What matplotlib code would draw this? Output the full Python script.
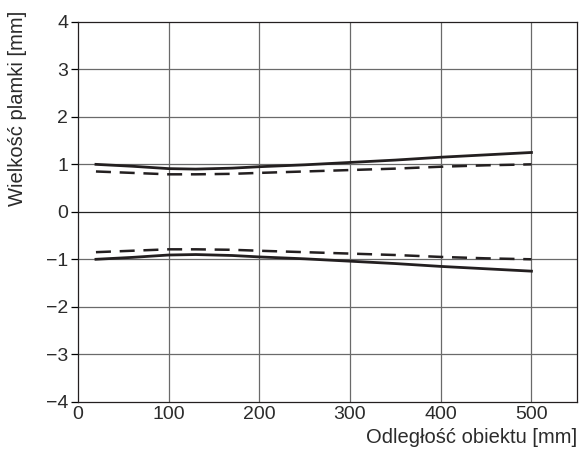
import numpy as np
import matplotlib.pyplot as plt

plt.rcParams['font.family'] = ['Liberation Sans', 'DejaVu Sans']

# odległość obiektu [mm]
x_solid = [20, 60, 100, 130, 170, 200, 250, 300, 350, 400, 450, 500]
solid_up = [1.0, 0.96, 0.91, 0.90, 0.92, 0.95, 0.99, 1.04, 1.09, 1.15, 1.20, 1.25]
x_dash = [20, 60, 100, 130, 170, 200, 250, 300, 350, 400, 450, 500]
dash_up = [0.85, 0.82, 0.79, 0.79, 0.80, 0.82, 0.85, 0.88, 0.91, 0.95, 0.98, 1.0]

solid_dn = [-v for v in solid_up]
dash_dn = [-v for v in dash_up]

xticks = [0, 100, 200, 300, 400, 500]
yticks = [-4, -3, -2, -1, 0, 1, 2, 3, 4]

txt = '#2b2b2b'

fig = plt.figure(figsize=(5.85, 4.57), dpi=100)
ax = fig.add_axes([0.133, 0.121, 0.853, 0.831])

for v in xticks[1:]:
    ax.axvline(v, color='#6a6a6a', lw=0.9, zorder=1)
for v in yticks[1:-1]:
    ax.axhline(v, color='#6a6a6a' if v != 0 else '#222222', lw=0.9, zorder=1)

ax.plot(x_solid, solid_up, color='#231f20', lw=2.0, zorder=3)
ax.plot(x_solid, solid_dn, color='#231f20', lw=2.0, zorder=3)
ax.plot(x_dash, dash_up, color='#231f20', lw=1.8, dashes=(6, 3.5), zorder=3)
ax.plot(x_dash, dash_dn, color='#231f20', lw=1.8, dashes=(6, 3.5), zorder=3)

ax.set_xlim(0, 550)
ax.set_ylim(-4, 4)
ax.set_xticks(xticks)
ax.set_yticks(yticks)
ax.tick_params(axis='x', length=0, labelsize=14, pad=3, labelcolor=txt)
ax.tick_params(axis='y', length=5, width=0.9, labelsize=14, pad=2, labelcolor=txt)
for s in ax.spines.values():
    s.set_linewidth(0.9)
    s.set_color('#231f20')

ax.set_ylabel('Wielkość plamki [mm]', fontsize=14.5, loc='top', color=txt)
ax.yaxis.set_label_coords(-0.102, 1.03)
ax.set_xlabel('Odległość obiektu [mm]', fontsize=14.5, loc='right', labelpad=4, color=txt)

fig.savefig('out.png', dpi=100)
